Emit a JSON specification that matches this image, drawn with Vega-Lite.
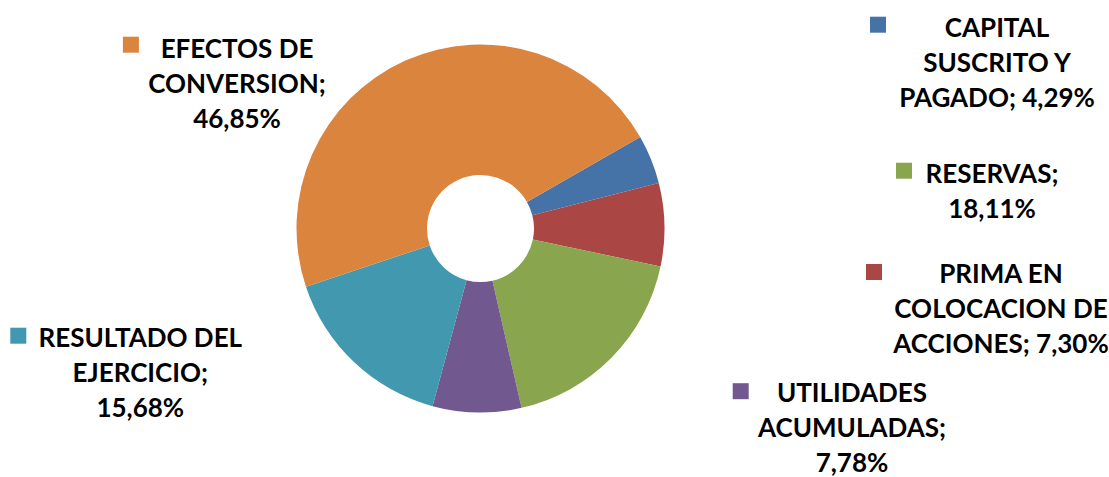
{
  "$schema": "https://vega.github.io/schema/vega-lite/v6.json",
  "width": 400,
  "height": 400,
  "autosize": "none",
  "padding": {"left": 280.5, "top": 28.5, "right": 428.5, "bottom": 48.5},
  "background": "white",
  "data": {
    "values": [
      {"orden": 1, "categoria": "CAPITAL SUSCRITO Y PAGADO", "valor": 4.29, "etiqueta": "CAPITAL\nSUSCRITO Y\nPAGADO; 4,29%"},
      {"orden": 2, "categoria": "PRIMA EN COLOCACION DE ACCIONES", "valor": 7.30, "etiqueta": "PRIMA EN\nCOLOCACION DE\nACCIONES; 7,30%"},
      {"orden": 3, "categoria": "RESERVAS", "valor": 18.11, "etiqueta": "RESERVAS;\n18,11%"},
      {"orden": 4, "categoria": "UTILIDADES ACUMULADAS", "valor": 7.78, "etiqueta": "UTILIDADES\nACUMULADAS;\n7,78%"},
      {"orden": 5, "categoria": "RESULTADO DEL EJERCICIO", "valor": 15.68, "etiqueta": "RESULTADO DEL\nEJERCICIO;\n15,68%"},
      {"orden": 6, "categoria": "EFECTOS DE CONVERSION", "valor": 46.85, "etiqueta": "EFECTOS DE\nCONVERSION;\n46,85%"}
    ]
  },
  "layer": [
    {
      "mark": {"type": "arc", "radius": 184, "radius2": 53.5},
      "encoding": {
        "theta": {"field": "valor", "type": "quantitative", "stack": true, "scale": {"range": [1.0507, 7.3339]}},
        "order": {"field": "orden", "type": "quantitative"},
        "color": {
          "field": "categoria", "type": "nominal", "legend": null,
          "scale": {
            "domain": ["CAPITAL SUSCRITO Y PAGADO", "PRIMA EN COLOCACION DE ACCIONES", "RESERVAS", "UTILIDADES ACUMULADAS", "RESULTADO DEL EJERCICIO", "EFECTOS DE CONVERSION"],
            "range": ["#4572A7", "#AA4643", "#89A54E", "#71588F", "#4198AF", "#DB843D"]
          }
        }
      }
    },
    {
      "mark": {"type": "square", "size": 256, "filled": true, "opacity": 1},
      "encoding": {
        "x": {"field": "orden", "type": "quantitative", "axis": null, "scale": {"domain": [1, 2, 3, 4, 5, 6], "range": [597.5, 593.5, 623.5, 460.2, -262.2, -149.6], "zero": false, "nice": false}},
        "y": {"field": "orden", "type": "quantitative", "axis": null, "scale": {"domain": [1, 2, 3, 4, 5, 6], "range": [-3.8, 243.5, 142.2, 362.7, 307.2, 16.2], "zero": false, "nice": false}},
        "color": {
          "field": "categoria", "type": "nominal", "legend": null,
          "scale": {
            "domain": ["CAPITAL SUSCRITO Y PAGADO", "PRIMA EN COLOCACION DE ACCIONES", "RESERVAS", "UTILIDADES ACUMULADAS", "RESULTADO DEL EJERCICIO", "EFECTOS DE CONVERSION"],
            "range": ["#4572A7", "#AA4643", "#89A54E", "#71588F", "#4198AF", "#DB843D"]
          }
        }
      }
    },
    {
      "mark": {"type": "text", "font": "Lato", "fontWeight": "bold", "fontSize": 26, "lineHeight": 35, "lineBreak": "\n", "align": "center", "baseline": "middle", "color": "black"},
      "encoding": {
        "x": {"field": "orden", "type": "quantitative", "axis": null, "scale": {"domain": [1, 2, 3, 4, 5, 6], "range": [716.5, 720.5, 711.5, 571.5, -140.2, -43.5], "zero": false, "nice": false}},
        "y": {"field": "orden", "type": "quantitative", "axis": null, "scale": {"domain": [1, 2, 3, 4, 5, 6], "range": [0.0, 246.6, 146.6, 365.5, 310.8, 21.6], "zero": false, "nice": false}},
        "text": {"field": "etiqueta", "type": "nominal"}
      }
    }
  ],
  "resolve": {"scale": {"x": "independent", "y": "independent"}},
  "config": {"view": {"stroke": null}}
}
